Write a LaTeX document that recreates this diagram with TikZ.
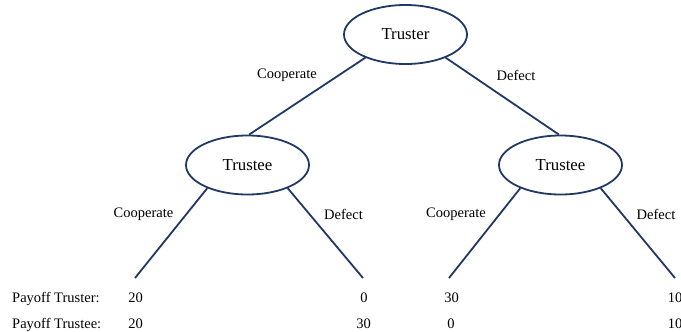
\documentclass[tikz,border=0pt]{standalone}
\usepackage{fontspec}
\setmainfont{Liberation Serif}
\usetikzlibrary{shapes.geometric}
\definecolor{navy}{RGB}{31,56,100}
\tikzset{
  player/.style={ellipse, draw=navy, line width=1.8pt, minimum width=123pt, minimum height=59pt, inner sep=0pt, font=\fontsize{16.8}{20}\selectfont},
  edge/.style={draw=navy, line width=1.8pt},
  lbl/.style={font=\fontsize{14.5}{17}\selectfont, inner sep=0pt},
  pay/.style={font=\fontsize{14.5}{17}\selectfont, inner sep=0pt, anchor=base},
}
\begin{document}
\begin{tikzpicture}[x=1pt,y=-1pt]
\useasboundingbox (0,0) rectangle (681,332);
\node[player] (root) at (405.5,34.5) {Truster};
\node[player] (L) at (247.5,165) {Trustee};
\node[player] (R) at (560.5,165) {Trustee};
\coordinate (LL) at (135,278);
\coordinate (LR) at (363,278);
\coordinate (RL) at (449,278);
\coordinate (RR) at (675,278);
\draw[edge] (root.210) -- (L.87);
\draw[edge] (root.330) -- (R.93);
\draw[edge] (L.210) -- (LL);
\draw[edge] (L.330) -- (LR);
\draw[edge] (R.210) -- (RL);
\draw[edge] (R.330) -- (RR);
\node[lbl] (c1) at (287,75) {Cooperate};
\node[lbl] (d1) at (516,75) {Defect};
\node[lbl] (c2) at (143.5,214) {Cooperate};
\node[lbl] (d2) at (343.5,214) {Defect};
\node[lbl] (c3) at (456,214) {Cooperate};
\node[lbl] (d3) at (656,214) {Defect};
\node[pay, anchor=base west] (p1) at (12,302) {Payoff Truster:};
\node[pay, anchor=base west] (p2) at (12,328) {Payoff Trustee:};
\node[pay] (a1) at (135.5,302) {20};
\node[pay] (a2) at (364,302) {0};
\node[pay] (a3) at (451.5,302) {30};
\node[pay] (a4) at (675,302) {10};
\node[pay] (b1) at (135.5,328) {20};
\node[pay] (b2) at (363.5,328) {30};
\node[pay] (b3) at (451,328) {0};
\node[pay] (b4) at (675,328) {10};
\end{tikzpicture}
\end{document}
